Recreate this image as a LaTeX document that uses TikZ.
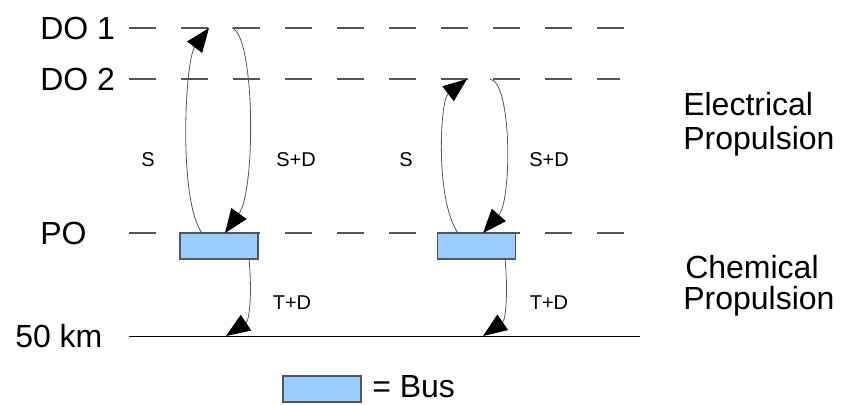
\documentclass[tikz,border=0pt]{standalone}
\usepackage{fontspec}
\setmainfont{Liberation Sans}
\usetikzlibrary{arrows.meta}
\definecolor{busblue}{HTML}{99CCFF}
\definecolor{linegray}{HTML}{555555}
\tikzset{
  level/.style={draw=linegray, line width=0.8pt, dash pattern=on 20.5pt off 18.5pt},
  ground/.style={draw=black, line width=0.7pt},
  busbox/.style={draw=linegray, fill=busblue, line width=0.8pt, minimum width=58.5pt, minimum height=19.5pt, inner sep=0pt, outer sep=0pt},
  big/.style={font=\fontsize{24}{28}\selectfont, inner sep=0pt},
  small/.style={font=\fontsize{15}{18}\selectfont, inner sep=0pt},
  traj/.style={draw=linegray, line width=0.6pt, -{Triangle[length=18pt,width=14pt,color=black,fill=black]}}
}
\begin{document}
\begin{tikzpicture}[x=0.75pt,y=-0.75pt]
\useasboundingbox (0,0) rectangle (841,404);
% levels
\coordinate (do1a) at (129,28); \coordinate (do1b) at (640,28);
\coordinate (do2a) at (129,79); \coordinate (do2b) at (620,79);
\coordinate (poa) at (129,233); \coordinate (pob) at (640,233);
\coordinate (kma) at (129,336); \coordinate (kmb) at (640,336);
\draw[level] (do1a) -- (do1b);
\draw[level] (do2a) -- (do2b);
\draw[level] (poa) -- (pob);
\draw[ground] (kma) -- (kmb);
% level labels
\node[big, anchor=west] (ldo1) at (40,28) {DO 1};
\node[big, anchor=west] (ldo2) at (40,79) {DO 2};
\node[big, anchor=west] (lpo) at (40,233) {PO};
\node[big, anchor=west] (lkm) at (15,336) {50 km};
\node[big, anchor=west] (el) at (683,104) {Electrical};
\node[big, anchor=west] (ep) at (683,141) {Propulsion};
\node[big, anchor=west] (cl) at (685,267) {Chemical};
\node[big, anchor=west] (cp) at (683,301) {Propulsion};
% buses
\node[busbox] (bus1) at (219,246) {};
\node[busbox] (bus2) at (476.5,246) {};
% endpoints
\coordinate (t1) at (209,28);
\coordinate (s1) at (232,28);
\coordinate (g1) at (226,336);
\coordinate (t2) at (467,79);
\coordinate (s2) at (490,79);
\coordinate (g2) at (483,336);
% left trajectories
\draw[traj] ([xshift=-12.75pt]bus1.north) .. controls (178,200) and (185,60) .. (t1);
\draw[traj] (s1) .. controls (255,35) and (256,190) .. ([xshift=4.5pt]bus1.north);
\draw[traj] ([xshift=22.5pt]bus1.south) .. controls (252,290) and (250,320) .. (g1);
% right trajectories
\draw[traj] ([xshift=-13.9pt]bus2.north) .. controls (435,200) and (440,100) .. (t2);
\draw[traj] (s2) .. controls (512,82) and (512,200) .. ([xshift=4.9pt]bus2.north);
\draw[traj] ([xshift=21.4pt]bus2.south) .. controls (508,290) and (506,320) .. (g2);
% small labels
\node[small] (ls1) at (148,160) {S};
\node[small] (lsd1) at (296,160) {S+D};
\node[small] (ltd1) at (292,303) {T+D};
\node[small] (ls2) at (406,160) {S};
\node[small] (lsd2) at (549,160) {S+D};
\node[small] (ltd2) at (549,303) {T+D};
% legend
\node[busbox] (legbus) at (322,389) {};
\node[big, anchor=west] (legtxt) at (372,387) {= Bus};
\end{tikzpicture}
\end{document}
